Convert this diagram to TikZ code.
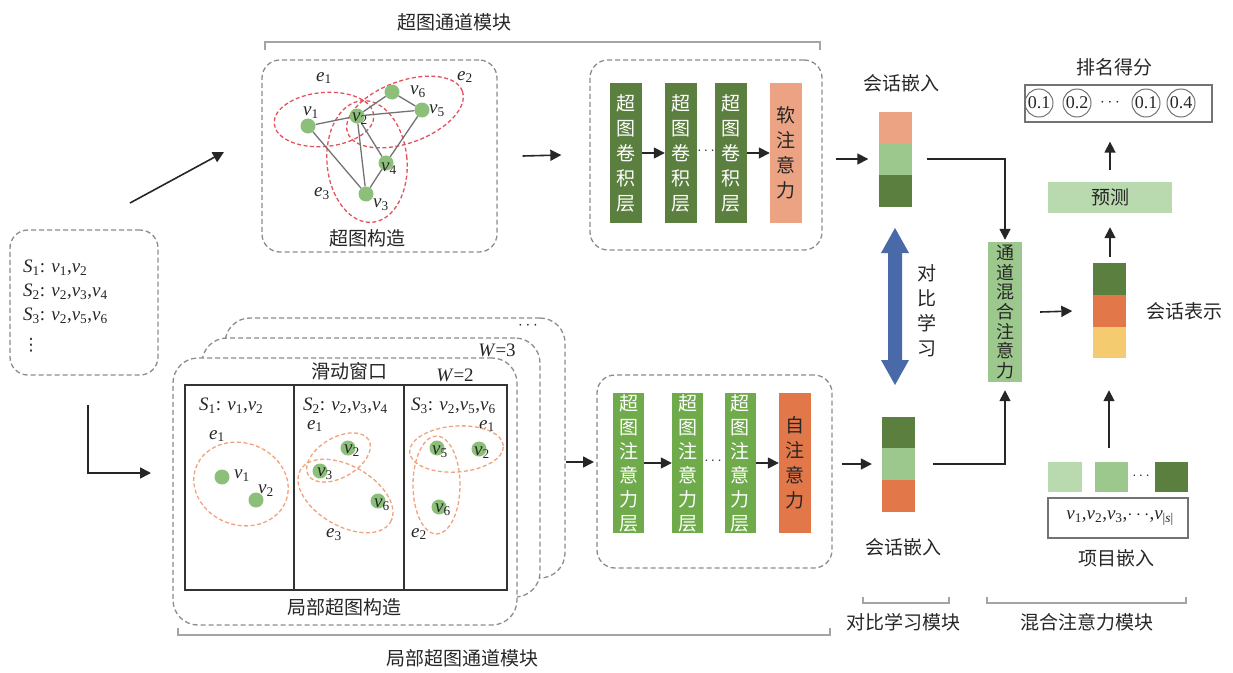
\RequirePackage{fix-cm}
\documentclass[tikz,border=0pt]{standalone}
\usepackage[no-math]{fontspec}
\setmainfont{Noto Sans CJK SC}
\newfontfamily\latinserif{Liberation Serif}
\newfontfamily\dejavu{DejaVu Sans}
\usetikzlibrary{arrows.meta,calc}
\newcommand{\Ti}[2]{\textit{#1}\textsubscript{#2}}
\definecolor{dkgreen}{HTML}{5B7F3E}
\definecolor{ltgreen}{HTML}{9DC88D}
\definecolor{palegreen}{HTML}{B9D9AE}
\definecolor{salmon}{HTML}{EBA384}
\definecolor{orng}{HTML}{E2784A}
\definecolor{yel}{HTML}{F4CB6E}
\definecolor{attgreen}{HTML}{6FAA4B}
\definecolor{nodegreen}{HTML}{8CC07A}
\definecolor{ellred}{HTML}{E0535E}
\definecolor{ellorange}{HTML}{F2A27C}
\definecolor{boxgray}{HTML}{8C8C8C}
\definecolor{brkgray}{HTML}{A5A5A5}
\definecolor{arrowblue}{HTML}{4A69A8}
\definecolor{txt}{HTML}{262626}
\begin{document}
\begin{tikzpicture}[x=1pt,y=-1pt,
  font=\fontsize{19}{24}\selectfont, text=txt,
  dbox/.style={draw=boxgray, line width=1.3pt, dash pattern=on 5pt off 3pt, rounded corners=18pt, inner sep=0pt},
  arr/.style={draw=black!85, line width=1.6pt, -{Triangle[length=11pt,width=11pt]}},
  vcol/.style={minimum width=32pt, minimum height=140pt, inner sep=0pt, align=center, font=\fontsize{19}{25}\selectfont},
  cell/.style={minimum width=33pt, minimum height=32pt, inner sep=0pt},
  hv/.style={circle, fill=nodegreen, minimum size=15pt, inner sep=0pt},
  hedge/.style={draw=black!55, line width=1.3pt},
  ered/.style={draw=ellred, line width=1.3pt, dash pattern=on 4pt off 2.5pt},
  eorg/.style={draw=ellorange, line width=1.3pt, dash pattern=on 4pt off 2.5pt},
  mlbl/.style={font=\latinserif\fontsize{19}{22}\selectfont, inner sep=0pt},
  brk/.style={draw=brkgray, line width=1.6pt},
  gbox/.style={draw=black!55, line width=1.3pt, inner sep=0pt},
  score/.style={circle, draw=black!55, line width=1pt, minimum size=28pt, inner sep=0pt, font=\latinserif\fontsize{18}{20}\selectfont},
]
\useasboundingbox (0,0) rectangle (1233,672);

% ---------- brackets ----------
\draw[brk] (265,50) -- (265,42) -- (820,42) -- (820,50);
\node (ttop) at (454,22) {超图通道模块};
\draw[brk] (178,628) -- (178,635) -- (830,635) -- (830,628);
\node (tbot) at (462,658) {局部超图通道模块};
\draw[brk] (863,597) -- (863,603) -- (949,603) -- (949,597);
\node (tcl) at (903,622) {对比学习模块};
\draw[brk] (987,597) -- (987,603) -- (1186,603) -- (1186,597);
\node (tmix) at (1087,622) {混合注意力模块};

% ---------- session box ----------
\node[dbox, minimum width=148pt, minimum height=145pt] (sbox) at (84,302.5) {};
\node[mlbl, anchor=west] (s1) at (23,268) {\Ti{S}{1}: \Ti{v}{1},\Ti{v}{2}};
\node[mlbl, anchor=west] (s2) at (23,292) {\Ti{S}{2}: \Ti{v}{2},\Ti{v}{3},\Ti{v}{4}};
\node[mlbl, anchor=west] (s3) at (23,316) {\Ti{S}{3}: \Ti{v}{2},\Ti{v}{5},\Ti{v}{6}};
\node[inner sep=0pt, font=\dejavu\fontsize{17}{17}\selectfont] (s4) at (31,345) {⋮};

\coordinate (da) at (130,203);
\coordinate (db) at (224,152);
\draw[arr] (da) -- (db);
\coordinate (la) at (88,405);
\coordinate (lb) at (151,473);
\draw[arr] (la) |- (lb);

% ---------- hypergraph construction ----------
\node[dbox, minimum width=235pt, minimum height=192pt] (hgbox) at (379.5,156) {};
\node (hglbl) at (367,238) {超图构造};
\draw[ered, rotate around={5:(324,119.5)}] (324,119.5) ellipse [x radius=50pt, y radius=27pt];
\draw[ered, rotate around={20:(405,112)}] (405,112) ellipse [x radius=61pt, y radius=31pt];
\draw[ered, rotate around={5:(367,161.5)}] (367,161.5) ellipse [x radius=40pt, y radius=61pt];
\node[hv] (n1) at (308,126) {};
\node[hv] (n2) at (357,116) {};
\node[hv] (n6) at (392,92) {};
\node[hv] (n5) at (422,110) {};
\node[hv] (n4) at (386,163) {};
\node[hv] (n3) at (366,194) {};
\draw[hedge] (n1) -- (n2);
\draw[hedge] (n2) -- (n5);
\draw[hedge] (n2) -- (n6);
\draw[hedge] (n6) -- (n5);
\draw[hedge] (n5) -- (n4);
\draw[hedge] (n4) -- (n3);
\draw[hedge] (n1) -- (n3);
\draw[hedge] (n2) -- (n3);
\draw[hedge] (n2) -- (n4);
\node[mlbl] (l1) at (311,113) {\Ti{v}{1}};
\node[mlbl] (l2) at (360,119) {\Ti{v}{2}};
\node[mlbl] (l6) at (418,92) {\Ti{v}{6}};
\node[mlbl] (l5) at (437,111) {\Ti{v}{5}};
\node[mlbl] (l4) at (389,169) {\Ti{v}{4}};
\node[mlbl] (l3) at (381,205) {\Ti{v}{3}};
\node[mlbl] (le1) at (324,78) {\Ti{e}{1}};
\node[mlbl] (le2) at (465,77) {\Ti{e}{2}};
\node[mlbl] (le3) at (322,194) {\Ti{e}{3}};

% ---------- conv module ----------
\node[dbox, minimum width=232pt, minimum height=190pt] (convbox) at (706,155) {};
\node[vcol, fill=dkgreen, text=white] (c1) at (626,153) {超\\图\\卷\\积\\层};
\node[vcol, fill=dkgreen, text=white] (c2) at (681,153) {超\\图\\卷\\积\\层};
\node[vcol, fill=dkgreen, text=white] (c3) at (731,153) {超\\图\\卷\\积\\层};
\node[vcol, fill=salmon] (soft) at (786,153) {软\\注\\意\\力};
\draw[arr] (c1) -- (c2);
\node[inner sep=0pt, font=\fontsize{15}{15}\selectfont] (cd) at (706,151) {$\cdots$};
\draw[arr] (c3) -- (soft);
\draw[arr] ([xshift=25pt]hgbox.east) -- ([xshift=-28pt]convbox.west);

% ---------- top session embedding ----------
\node (temb) at (901,83) {会话嵌入};
\node[cell, fill=salmon, minimum height=31pt] (e1c) at (895,127.5) {};
\node[cell, fill=ltgreen] (e2c) at (895,159) {};
\node[cell, fill=dkgreen] (e3c) at (895,191) {};
\draw[arr] (convbox.east |- e2c.west) ++(13,0) -- ([xshift=-10pt]e2c.west);

% ---------- contrastive arrow ----------
\fill[arrowblue] (895,228) -- (909,253) -- (902,253) -- (902,360) -- (909,360) -- (895,385) -- (881,360) -- (888,360) -- (888,253) -- (881,253) -- cycle;
\node[align=center, font=\fontsize{19}{25}\selectfont] (cltxt) at (927,311) {对\\比\\学\\习};

% ---------- mixing attention ----------
\node[vcol, fill=ltgreen, minimum width=34pt, font=\fontsize{18}{19.7}\selectfont] (mix) at (1005,312) {通\\道\\混\\合\\注\\意\\力};
\draw[arr] ([xshift=15pt]e2c.east) -| ([yshift=2pt]mix.north);

% ---------- local hypergraph ----------
\node[dbox, fill=white, rounded corners=25pt, minimum width=340pt, minimum height=260pt] (lb3) at (395,448) {};
\node[dbox, fill=white, rounded corners=25pt, minimum width=338pt, minimum height=259pt] (lb2) at (371,467.5) {};
\node[dbox, fill=white, rounded corners=25pt, minimum width=344pt, minimum height=267pt] (lb1) at (345,491.5) {};
\node[inner sep=0pt, font=\fontsize{17}{17}\selectfont] (ldots) at (528,326) {$\cdots$};
\node[mlbl] (w3) at (497,350) {\textit{W}=3};
\node[mlbl] (w2) at (455,375) {\textit{W}=2};
\node (slide) at (349,371) {滑动窗口};
\node (lcons) at (344,607) {局部超图构造};
\node[draw=black!80, line width=2pt, minimum width=322pt, minimum height=205pt, inner sep=0pt] (win) at (346,487.5) {};
\draw[draw=black!80, line width=2pt] (win.north west) ++(110,0) -- ++(0,205);
\draw[draw=black!80, line width=2pt] (win.north west) ++(220,0) -- ++(0,205);

% panel 1
\node[mlbl, anchor=west] (p1s) at (199,406) {\Ti{S}{1}: \Ti{v}{1},\Ti{v}{2}};
\node[mlbl] (p1e) at (217,436) {\Ti{e}{1}};
\draw[eorg, rotate around={-20:(241,484)}] (241,484) ellipse [x radius=48pt, y radius=41pt];
\node[hv] (a1) at (222,477) {};
\node[hv] (a2) at (256,500) {};
\node[mlbl] (a1l) at (242,476) {\Ti{v}{1}};
\node[mlbl] (a2l) at (266,491) {\Ti{v}{2}};

% panel 2
\node[mlbl, anchor=west] (p2s) at (303,406) {\Ti{S}{2}: \Ti{v}{2},\Ti{v}{3},\Ti{v}{4}};
\node[mlbl] (p2e1) at (315,426) {\Ti{e}{1}};
\node[mlbl] (p2e3) at (334,535) {\Ti{e}{3}};
\draw[eorg, rotate around={30:(338.5,457.5)}] (338.5,457.5) ellipse [x radius=35pt, y radius=20pt];
\draw[eorg, rotate around={-30:(345.5,496)}] (345.5,496) ellipse [x radius=52pt, y radius=30pt];
\node[hv] (b2) at (348,448) {};
\node[hv] (b3) at (320,471) {};
\node[hv] (b6) at (378,501) {};
\node[mlbl] (b2l) at (352,451) {\Ti{v}{2}};
\node[mlbl] (b3l) at (325,474) {\Ti{v}{3}};
\node[mlbl] (b6l) at (382,505) {\Ti{v}{6}};

% panel 3
\node[mlbl, anchor=west] (p3s) at (411,406) {\Ti{S}{3}: \Ti{v}{2},\Ti{v}{5},\Ti{v}{6}};
\node[mlbl] (p3e1) at (487,426) {\Ti{e}{1}};
\node[mlbl] (p3e2) at (419,534) {\Ti{e}{2}};
\draw[eorg, rotate around={4:(456.5,449)}] (456.5,449) ellipse [x radius=47pt, y radius=23pt];
\draw[eorg] (436.5,485) ellipse [x radius=23.5pt, y radius=49pt];
\node[hv] (g5) at (437,448) {};
\node[hv] (g2) at (479,449) {};
\node[hv] (g6) at (439,507) {};
\node[mlbl] (g5l) at (440,452) {\Ti{v}{5}};
\node[mlbl] (g2l) at (482,453) {\Ti{v}{2}};
\node[mlbl] (g6l) at (443,510) {\Ti{v}{6}};

% ---------- attention module ----------
\coordinate (ia) at (566,462);
\coordinate (ib) at (594,462);
\draw[arr] (ia) -- (ib);
\node[dbox, minimum width=235pt, minimum height=193pt] (attbox) at (714.5,471.5) {};
\node[vcol, fill=attgreen, text=white, minimum width=31pt, font=\fontsize{19}{24}\selectfont] (t1) at (628.5,463) {超\\图\\注\\意\\力\\层};
\node[vcol, fill=attgreen, text=white, minimum width=31pt, font=\fontsize{19}{24}\selectfont] (t2) at (687.5,463) {超\\图\\注\\意\\力\\层};
\node[vcol, fill=attgreen, text=white, minimum width=31pt, font=\fontsize{19}{24}\selectfont] (t3) at (740,463) {超\\图\\注\\意\\力\\层};
\node[vcol, fill=orng, minimum width=32pt] (selfatt) at (795,463) {自\\注\\意\\力};
\draw[arr] (t1) -- (t2);
\node[inner sep=0pt, font=\fontsize{15}{15}\selectfont] (td) at (713,461) {$\cdots$};
\draw[arr] (t3) -- (selfatt);

% ---------- bottom session embedding ----------
\node[cell, fill=dkgreen, minimum height=31pt] (f1c) at (898.5,432.5) {};
\node[cell, fill=ltgreen] (f2c) at (898.5,464) {};
\node[cell, fill=orng] (f3c) at (898.5,496) {};
\node (bemb) at (903,547) {会话嵌入};
\draw[arr] (attbox.east |- f2c.west) ++(9,0) -- ([xshift=-10pt]f2c.west);
\draw[arr] ([xshift=18pt]f2c.east) -| ([yshift=-8pt]mix.south);

% ---------- session representation ----------
\node[cell, fill=dkgreen] (r1) at (1109,279) {};
\node[cell, fill=orng] (r2) at (1109,311) {};
\node[cell, fill=yel, minimum height=31pt] (r3) at (1109,342.5) {};
\node (rlbl) at (1184,311) {会话表示};
\draw[arr] ([xshift=18pt]mix.east) -- ([xshift=-20pt]r2.west);

% ---------- prediction ----------
\node[fill=palegreen, minimum width=124pt, minimum height=31pt, inner sep=0pt] (pred) at (1110,197.5) {预测};
\draw[arr] ([yshift=6pt]r1.north -| pred.south) -- ([yshift=-14pt]pred.south);
\node[gbox, minimum width=187pt, minimum height=37pt] (sbx) at (1118.5,103.5) {};
\node (stitle) at (1114,67) {排名得分};
\node[score] (sc1) at (1039,103) {0.1};
\node[score] (sc2) at (1077,103) {0.2};
\node[inner sep=0pt, font=\fontsize{17}{17}\selectfont] (scd) at (1110,103) {$\cdots$};
\node[score] (sc3) at (1146,103) {0.1};
\node[score] (sc4) at (1181,103) {0.4};
\draw[arr] ([yshift=12pt]pred.north) -- ([yshift=-19pt]sbx.south -| pred.north);

% ---------- item embedding ----------
\node[cell, fill=palegreen, minimum width=34pt, minimum height=30pt] (it1) at (1065,477) {};
\node[cell, fill=ltgreen, minimum width=33pt, minimum height=30pt] (it2) at (1111.5,477) {};
\node[inner sep=0pt, font=\fontsize{15}{15}\selectfont] (itd) at (1141,476) {$\cdots$};
\node[cell, fill=dkgreen, minimum width=33pt, minimum height=30pt] (it3) at (1171.5,477) {};
\node[gbox, minimum width=140pt, minimum height=40pt] (ibox) at (1118,518) {};
\node[mlbl] (itext) at (1120,518) {\Ti{v}{1},\Ti{v}{2},\Ti{v}{3},$\cdots$,\Ti{v}{|\textit{s}|}};
\node (ilbl) at (1116,558) {项目嵌入};
\draw[arr] ($(r3.south |- it2.north)+(0,-14)$) -- ($(r3.south)+(0,32)$);
\end{tikzpicture}
\end{document}
